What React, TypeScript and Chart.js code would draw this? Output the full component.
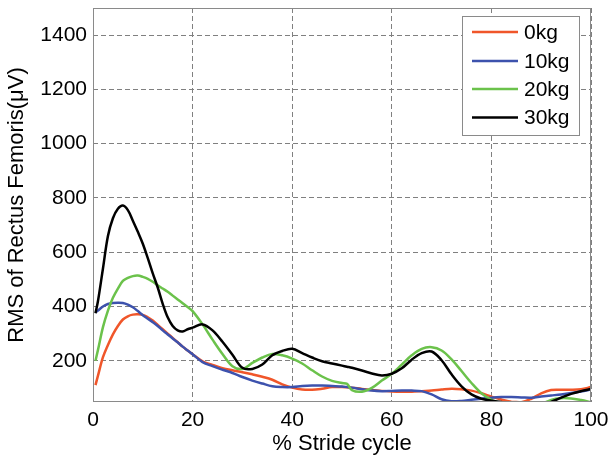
import React, { useEffect, useRef } from "react";
import { Chart, registerables } from "chart.js";

Chart.register(...registerables);

const xs = [0.5, 1, 2, 3, 4, 5, 6, 7, 8, 9, 10, 11, 12, 13, 14, 15, 16, 17, 18, 19, 20,
  22, 24, 26, 28, 30, 32, 34, 36, 38, 40, 42, 44, 46, 48, 50,
  51,
  52, 54, 56, 58, 60, 62, 64, 66, 68, 70, 72, 74, 76, 78, 80, 82, 84, 86, 88, 90, 92, 94, 96, 98, 100];

const kg0 = [110, 145, 213, 258, 297, 328, 352, 364, 370, 371, 369, 360, 348, 332, 316, 300, 284, 268, 252, 238, 224,
  198, 185, 173, 165, 158, 150, 141, 130, 113, 101, 94, 93, 97, 103, 103,
  102,
  101, 96, 92, 89, 87, 86, 86, 88, 90, 94, 97, 95, 90, 80, 68, 57, 49, 47, 60, 80, 92, 93, 93, 95, 103];

const kg10 = [378, 385, 400, 409, 413, 414, 413, 407, 397, 383, 368, 355, 342, 328, 312, 297, 282, 268, 252, 238, 224,
  195, 180, 167, 155, 140, 127, 116, 106, 103, 103, 107, 109, 109, 107, 105,
  103,
  101, 95, 90, 88, 89, 90, 90, 88, 76, 58, 51, 52, 56, 60, 64, 66, 66, 65, 64, 68, 72, 76, 81, 87, 94];

const kg20 = [200, 240, 324, 385, 432, 466, 494, 505, 512, 514, 509, 502, 491, 478, 466, 454, 440, 426, 412, 398, 383,
  334, 278, 225, 180, 170, 192, 212, 225, 220, 208, 190, 165, 142, 126, 118,
  115,
  92, 86, 100, 127, 152, 186, 220, 244, 250, 238, 205, 162, 118, 80, 56, 44, 35, 30, 30, 40, 56, 62, 61, 55, 47];

const kg30 = [375, 420, 540, 660, 725, 760, 772, 755, 716, 675, 631, 578, 522, 470, 410, 360, 328, 312, 308, 316, 322,
  334, 312, 270, 222, 174, 170, 186, 220, 236, 244, 228, 212, 198, 190, 182,
  178,
  174, 164, 153, 146, 152, 172, 204, 228, 234, 202, 150, 106, 76, 60, 53, 48, 42, 32, 28, 32, 48, 64, 78, 88, 96];

const seriesNames = ["0kg", "10kg", "20kg", "30kg"];
const seriesValues = [kg0, kg10, kg20, kg30];
const seriesColors = ["#F0562A", "#3D52AD", "#6BC24B", "#000000"];

const xTicks = [0, 20, 40, 60, 80, 100];
const yTicks = [200, 400, 600, 800, 1000, 1200, 1400];

const FONT = "'Liberation Sans', Arial, sans-serif";

const framePlugin = {
  id: "frameLegend",
  afterDraw(chart: any) {
    const { ctx, chartArea } = chart;
    const { left, top, right, bottom } = chartArea;
    ctx.save();
    ctx.strokeStyle = "#8a8a8a";
    ctx.lineWidth = 1;
    ctx.setLineDash([]);
    ctx.strokeRect(Math.round(left) + 0.5, Math.round(top) + 0.5, Math.round(right - left) - 1, Math.round(bottom - top) - 1);

    // legend
    const bx = 462.5, by = 16.5, bw = 117, bh = 119;
    ctx.fillStyle = "#ffffff";
    ctx.fillRect(bx, by, bw, bh);
    ctx.strokeStyle = "#8a8a8a";
    ctx.strokeRect(bx, by, bw, bh);
    const rows = [32, 61, 89, 117.5];
    chart.data.datasets.forEach((ds: any, i: number) => {
      const y = rows[i];
      ctx.strokeStyle = ds.borderColor;
      ctx.lineWidth = 2.5;
      ctx.beginPath();
      ctx.moveTo(472, y);
      ctx.lineTo(518, y);
      ctx.stroke();
      ctx.fillStyle = "#000";
      ctx.font = `21px ${FONT}`;
      ctx.textBaseline = "middle";
      ctx.textAlign = "left";
      ctx.fillText(ds.label, 524, y + 1);
    });
    ctx.restore();
  },
};

export default function App() {
  const ref = useRef<HTMLCanvasElement | null>(null);
  useEffect(() => {
    if (!ref.current) return;
    const datasets = seriesNames.map((name, i) => ({
      label: name,
      data: xs.map((x, j) => ({ x, y: seriesValues[i][j] })),
      borderColor: seriesColors[i],
      backgroundColor: seriesColors[i],
      borderWidth: 2.5,
      pointRadius: 0,
      tension: 0.35,
      fill: false,
      order: 3 - i,
    }));
    const chart = new Chart(ref.current, {
      type: "line",
      data: { datasets },
      options: {
        animation: false,
        responsive: false,
        devicePixelRatio: 1,
        layout: { padding: { top: 8, right: 18, left: 0, bottom: 0 } },
        plugins: { legend: { display: false }, tooltip: { enabled: false } },
        scales: {
          x: {
            type: "linear",
            min: 0,
            max: 100,
            afterBuildTicks: (s: any) => { s.ticks = xTicks.map((v) => ({ value: v })); },
            afterFit: (s: any) => { s.height = 57; s.paddingLeft = 0; s.paddingRight = 0; },
            ticks: { color: "#000", font: { family: FONT, size: 21 }, padding: 6, maxRotation: 0, callback: (v: any) => String(v) },
            grid: { color: "#808080", drawTicks: false, lineWidth: 1 },
            border: { display: false, dash: [5, 3] },
            title: { display: true, text: "% Stride cycle", color: "#000", font: { family: FONT, size: 22 }, padding: { top: 0, bottom: 2 } },
          },
          y: {
            type: "linear",
            min: 48,
            max: 1500,
            afterBuildTicks: (s: any) => { s.ticks = yTicks.map((v) => ({ value: v })); },
            afterFit: (s: any) => { s.width = 93; s.paddingTop = 0; s.paddingBottom = 0; },
            ticks: { color: "#000", font: { family: FONT, size: 21 }, padding: 6, callback: (v: any) => String(v) },
            grid: { color: "#808080", drawTicks: false, lineWidth: 1 },
            border: { display: false, dash: [5, 3] },
            title: { display: true, text: "RMS of Rectus Femoris(μV)", color: "#000", font: { family: FONT, size: 22 }, padding: { top: 4, bottom: 0 } },
          },
        },
      },
      plugins: [framePlugin],
    });
    return () => chart.destroy();
  }, []);
  return (
    <div style={{ position: "fixed", left: 0, top: 0, width: 609, height: 459, background: "#fff" }}>
      <canvas ref={ref} width={609} height={459} style={{ display: "block" }} />
    </div>
  );
}
